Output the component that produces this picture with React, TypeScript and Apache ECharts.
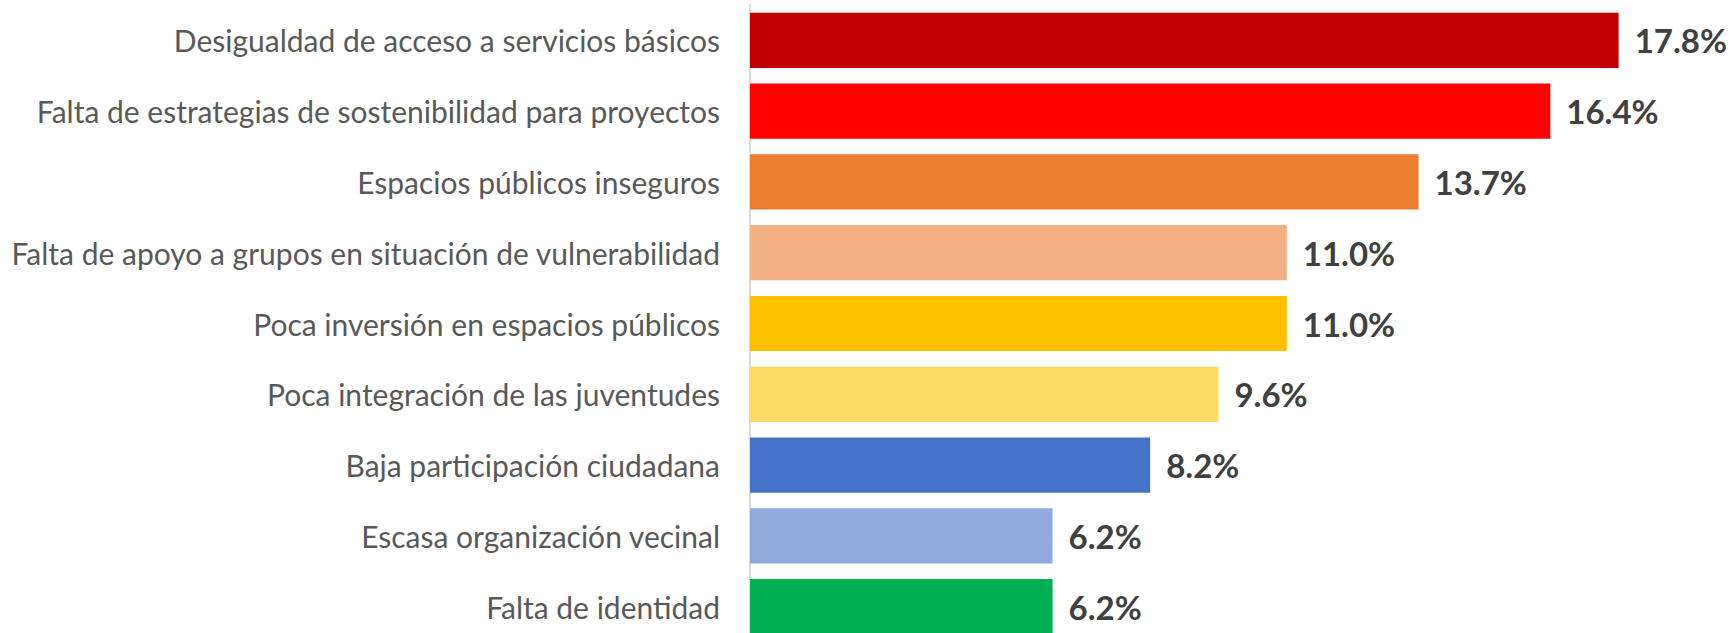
import React, { useEffect, useRef } from "react";
import * as echarts from "echarts";

const categories = [
  "Desigualdad de acceso a servicios básicos",
  "Falta de estrategias de sostenibilidad para proyectos",
  "Espacios públicos inseguros",
  "Falta de apoyo a grupos en situación de vulnerabilidad",
  "Poca inversión en espacios públicos",
  "Poca integración de las juventudes",
  "Baja participación ciudadana",
  "Escasa organización vecinal",
  "Falta de identidad",
];
const values = [17.8, 16.4, 13.7, 11.0, 11.0, 9.6, 8.2, 6.2, 6.2];
const barColors = [
  "#C00000",
  "#FF0000",
  "#ED7D31",
  "#F4B183",
  "#FFC000",
  "#FFD966",
  "#4472C4",
  "#8FAADC",
  "#00B050",
];

export default function App() {
  const ref = useRef<HTMLDivElement>(null);
  useEffect(() => {
    if (!ref.current) return;
    const chart = echarts.init(ref.current, undefined, { renderer: "svg" });
    chart.setOption({
      animation: false,
      backgroundColor: "#ffffff",
      grid: { left: 750, right: 9, top: 5, bottom: 0, containLabel: false },
      xAxis: {
        type: "value",
        min: 0,
        max: 20,
        show: false,
      },
      yAxis: {
        type: "category",
        data: categories,
        inverse: true,
        axisLine: { show: true, lineStyle: { color: "#D9D9D9", width: 2 } },
        axisTick: { show: false },
        axisLabel: {
          color: "#595959",
          fontFamily: "Lato",
          fontSize: 30,
          margin: 30,
        },
      },
      series: [
        {
          type: "bar",
          data: values.map((v, i) => ({ value: v, itemStyle: { color: barColors[i] } })),
          barWidth: "78%",
          label: {
            show: true,
            position: "right",
            distance: 16,
            formatter: (p: any) => p.value.toFixed(1) + "%",
            color: "#404040",
            fontFamily: "Lato",
            fontWeight: "bold",
            fontSize: 33,
          },
        },
      ],
    });
    return () => chart.dispose();
  }, []);
  return (
    <div
      ref={ref}
      style={{ position: "absolute", left: 0, top: 0, width: 1735, height: 642 }}
    />
  );
}
